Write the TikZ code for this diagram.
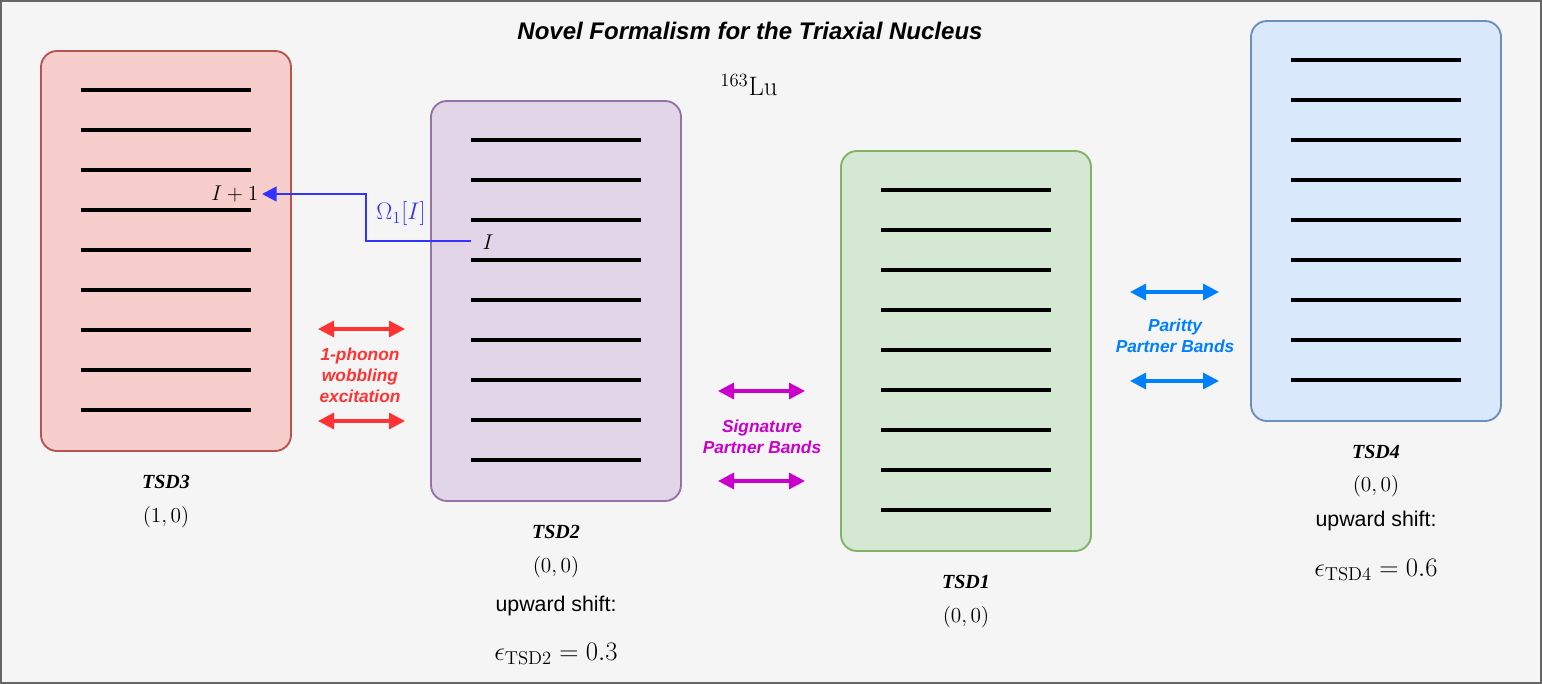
\documentclass[tikz,border=0pt]{standalone}
\usepackage{fix-cm}
\usepackage[no-math]{fontspec}
\usepackage{amsmath}
\newfontfamily\sansfnt{Liberation Sans}
\newfontfamily\seriffnt{Liberation Serif}
\usetikzlibrary{arrows.meta,positioning,calc}

\definecolor{bgc}{HTML}{F5F5F5}
\definecolor{framec}{HTML}{666666}
\definecolor{redf}{HTML}{F8CECC}
\definecolor{redd}{HTML}{B85450}
\definecolor{purf}{HTML}{E1D5E7}
\definecolor{purd}{HTML}{9673A6}
\definecolor{grnf}{HTML}{D5E8D4}
\definecolor{grnd}{HTML}{82B366}
\definecolor{bluf}{HTML}{DAE8FC}
\definecolor{blud}{HTML}{6C8EBF}
\definecolor{wobc}{HTML}{FF3333}
\definecolor{sigc}{HTML}{CC00CC}
\definecolor{parc}{HTML}{007FFF}
\definecolor{trc}{HTML}{3333FF}

\tikzset{
  band/.style={draw,line width=1.4pt,rounded corners=12pt,minimum width=187.5pt,
    minimum height=300pt,inner sep=0pt},
  level/.style={line width=2.5pt},
  link/.style={line width=2.4pt,{Triangle[length=12pt,width=12pt]}-{Triangle[length=12pt,width=12pt]}},
  note/.style={font=\sansfnt\bfseries\itshape\fontsize{13}{15.5}\selectfont,align=center},
  tsdname/.style={font=\seriffnt\bfseries\itshape\fontsize{15}{18}\selectfont},
  qnum/.style={font=\fontsize{16}{19}\selectfont},
  shifttxt/.style={font=\sansfnt\fontsize{16}{19}\selectfont},
  epsval/.style={font=\fontsize{20}{24}\selectfont},
}

\begin{document}
\begin{tikzpicture}[x=0.75pt,y=-0.75pt]
  \useasboundingbox (0,0) rectangle (1542,684);
  % fond et cadre
  \draw[fill=bgc,draw=framec,line width=1.5pt] (1,1) rectangle (1541,683);
  % titre
  \node[font=\sansfnt\bfseries\itshape\fontsize{18}{21}\selectfont] (title) at (750,31)
    {Novel Formalism for the Triaxial Nucleus};
  \node[font=\fontsize{20}{24}\selectfont] (nucl) at (749,85) {$^{163}\mathrm{Lu}$};
  % bandes
  \node[band,fill=redf,draw=redd] (tsd3) at (166,251) {};
  \node[band,fill=purf,draw=purd] (tsd2) at (556,301) {};
  \node[band,fill=grnf,draw=grnd] (tsd1) at (966,351) {};
  \node[band,fill=bluf,draw=blud] (tsd4) at (1376,221) {};
  % niveaux
  \foreach \b in {tsd3,tsd2,tsd1,tsd4}{
    \foreach \k in {1,...,9}{\draw[level] ($(\b.north)+(-85,40*\k)$) -- ++(170,0);}
  }
  % noms et nombres
  \node[tsdname] (n3) at (166,482) {TSD3};
  \node[qnum] (q3) at (166,517) {$(1,0)$};
  \node[tsdname] (n2) at (556,532) {TSD2};
  \node[qnum] (q2) at (556,567) {$(0,0)$};
  \node[shifttxt] (s2) at (556,606) {upward shift:};
  \node[epsval] (e2) at (556,654) {$\epsilon_{\mathrm{TSD2}}=0.3$};
  \node[tsdname] (n1) at (966,582) {TSD1};
  \node[qnum] (q1) at (966,617) {$(0,0)$};
  \node[tsdname] (n4) at (1376,452) {TSD4};
  \node[qnum] (q4) at (1376,486) {$(0,0)$};
  \node[shifttxt] (s4) at (1376,521) {upward shift:};
  \node[epsval] (e4) at (1376,570) {$\epsilon_{\mathrm{TSD4}}=0.6$};
  % transition I -> I+1
  \coordinate (fromI) at (471,241);
  \coordinate (toI) at (262,194);
  \draw[trc,line width=2pt,-{Triangle[length=11pt,width=11pt]}] (fromI) -- ++(-105,0) |- (toI);
  \node[qnum,anchor=west,inner sep=1pt] (lI) at (481,242) {$I$};
  \node[qnum,anchor=east,inner sep=1pt] (lIp) at (260,194) {$I+1$};
  \node[qnum,text=trc,font=\fontsize{18}{21}\selectfont] (om) at (401,214) {$\Omega_1[I]$};
  % liens entre bandes
  \draw[link,wobc] (318,329) -- (405,329);
  \draw[link,wobc] (318,421) -- (405,421);
  \node[note,text=wobc,font=\sansfnt\bfseries\itshape\fontsize{13}{15.75}\selectfont] (wob) at (360,375)
    {1-phonon\\wobbling\\excitation};
  \draw[link,sigc] (718,391) -- (805,391);
  \draw[link,sigc] (718,481) -- (805,481);
  \node[note,text=sigc] (sig) at (762,437) {Signature\\Partner Bands};
  \draw[link,parc] (1130,292) -- (1219,292);
  \draw[link,parc] (1130,381) -- (1219,381);
  \node[note,text=parc] (par) at (1175,336) {Paritty\\Partner Bands};
\end{tikzpicture}
\end{document}
